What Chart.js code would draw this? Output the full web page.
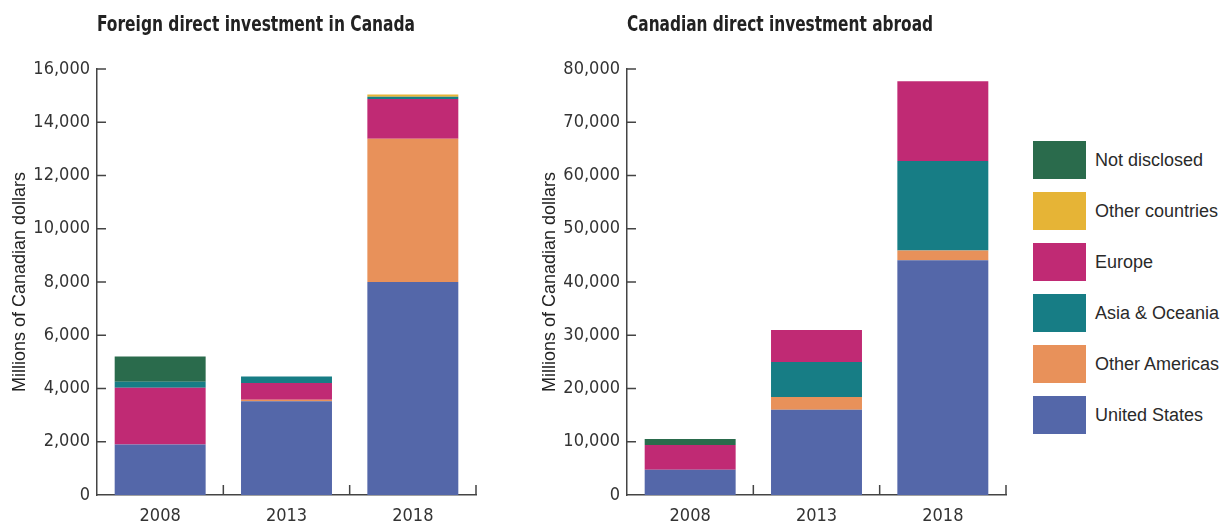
<!DOCTYPE html>
<html lang="en">
<head>
  <meta charset="UTF-8">
  <title>Foreign direct investment in Canada / Canadian direct investment abroad</title>
  <script src="https://cdn.jsdelivr.net/npm/chart.js"></script>
  <style>
    body { margin: 0; background: #fff; width: 1226px; height: 523px; position: relative; overflow: hidden; }
    .box { position: absolute; top: 0; width: 490px; height: 523px; }
    #leftBox { left: 0; }
    #rightBox { left: 530px; }
    #legend { position: absolute; left: 1033px; top: 141px; font-family: "Liberation Sans", Arial, Helvetica, sans-serif; font-size: 18px; color: #2a2a2a; }
    .item { display: flex; align-items: center; height: 38px; margin-bottom: 13px; }
    .swatch { width: 53px; height: 38px; margin-right: 9px; flex: none; }
  </style>
</head>
<body>
  <div class="box" id="leftBox"><canvas id="left"></canvas></div>
  <div class="box" id="rightBox"><canvas id="right"></canvas></div>
  <div id="legend"></div>

  <script>
    const years = ["2008", "2013", "2018"];
    const seriesNames = ["United States", "Other Americas", "Asia & Oceania", "Europe", "Other countries", "Not disclosed"];
    const seriesColors = ["#5467a9", "#e8915a", "#177d85", "#c02a74", "#e6b436", "#2a6b4c"];

    // Foreign direct investment in Canada (millions of CAD)
    const fdiUS = [1900, 3520, 8000];
    const fdiOtherAmericas = [0, 60, 5380];
    const fdiAsia = [220, 240, 90];
    const fdiEurope = [2130, 630, 1490];
    const fdiOther = [0, 0, 80];
    const fdiUndisclosed = [950, 0, 0];

    // Canadian direct investment abroad (millions of CAD)
    const cdiaUS = [4750, 16000, 44100];
    const cdiaOtherAmericas = [0, 2400, 1800];
    const cdiaAsia = [0, 6600, 16800];
    const cdiaEurope = [4640, 6000, 15000];
    const cdiaOther = [0, 0, 0];
    const cdiaUndisclosed = [1130, 0, 0];

    // the left panel stacks Europe below Asia & Oceania, the right one the other way
    const fdiStackOrder = [0, 1, 3, 2, 4, 5];
    const cdiaStackOrder = [0, 1, 2, 3, 4, 5];

    const axisColor = "#444";
    const narrow = '"Liberation Sans Narrow", "DejaVu Sans Condensed", sans-serif';

    // title at the left edge of the plot, plus inward y ticks and upward x ticks
    const decor = {
      id: "decor",
      afterDraw(chart, args, opts) {
        const ctx = chart.ctx;
        const area = chart.chartArea;
        const x = chart.scales.x;
        const y = chart.scales.y;
        ctx.save();
        ctx.fillStyle = "#222";
        ctx.font = "bold 21px " + narrow;
        ctx.textBaseline = "middle";
        ctx.textAlign = "left";
        ctx.fillText(opts.text, area.left, 26, opts.width);

        ctx.strokeStyle = axisColor;
        ctx.lineWidth = 1.5;
        ctx.beginPath();
        y.ticks.forEach((t, i) => {
          if (i === 0) return;
          const py = y.getPixelForTick(i);
          ctx.moveTo(area.left, py);
          ctx.lineTo(area.left + 9, py);
        });
        for (let i = 1; i <= years.length; i++) {
          const px = i < years.length
            ? (x.getPixelForValue(i - 1) + x.getPixelForValue(i)) / 2
            : area.right;
          ctx.moveTo(px, area.bottom);
          ctx.lineTo(px, area.bottom - 10);
        }
        ctx.stroke();
        ctx.restore();
      }
    };

    function makeDatasets(values, order) {
      return order.map(i => ({
        label: seriesNames[i],
        data: values[i],
        backgroundColor: seriesColors[i],
        borderWidth: 0,
        categoryPercentage: 0.72,
        barPercentage: 1
      }));
    }

    function makeChart(id, title, titleWidth, values, order, max, step) {
      return new Chart(document.getElementById(id), {
        type: "bar",
        data: { labels: years, datasets: makeDatasets(values, order) },
        options: {
          responsive: true,
          maintainAspectRatio: false,
          animation: false,
          layout: { padding: { top: 69, right: 14, bottom: 0, left: 0 } },
          plugins: {
            legend: { display: false },
            tooltip: { enabled: false },
            decor: { text: title, width: titleWidth }
          },
          scales: {
            x: {
              stacked: true,
              afterFit: s => { s.height = 28; },
              grid: { display: false, drawTicks: false },
              border: { color: axisColor, width: 1.5 },
              ticks: { color: "#333", font: { family: narrow, size: 18 }, padding: 11 }
            },
            y: {
              stacked: true,
              min: 0,
              max: max,
              afterFit: s => { s.width = 97; },
              grid: { display: false, drawTicks: false },
              border: { color: axisColor, width: 1.5 },
              ticks: { stepSize: step, color: "#333", font: { family: narrow, size: 18 }, padding: 7 },
              title: {
                display: true,
                text: "Millions of Canadian dollars",
                color: "#222",
                font: { family: '"Liberation Sans", Arial, Helvetica, sans-serif', size: 18 },
                padding: { top: 9, bottom: 0 }
              }
            }
          }
        },
        plugins: [decor]
      });
    }

    makeChart("left", "Foreign direct investment in Canada", 318,
      [fdiUS, fdiOtherAmericas, fdiAsia, fdiEurope, fdiOther, fdiUndisclosed], fdiStackOrder, 16000, 2000);
    makeChart("right", "Canadian direct investment abroad", 306,
      [cdiaUS, cdiaOtherAmericas, cdiaAsia, cdiaEurope, cdiaOther, cdiaUndisclosed], cdiaStackOrder, 80000, 10000);

    // legend, top to bottom in reverse stacking order
    const legend = document.getElementById("legend");
    for (let i = seriesNames.length - 1; i >= 0; i--) {
      const item = document.createElement("div");
      item.className = "item";
      item.innerHTML = '<div class="swatch" style="background:' + seriesColors[i] + '"></div><span>' + seriesNames[i] + '</span>';
      legend.appendChild(item);
    }
  </script>
</body>
</html>
